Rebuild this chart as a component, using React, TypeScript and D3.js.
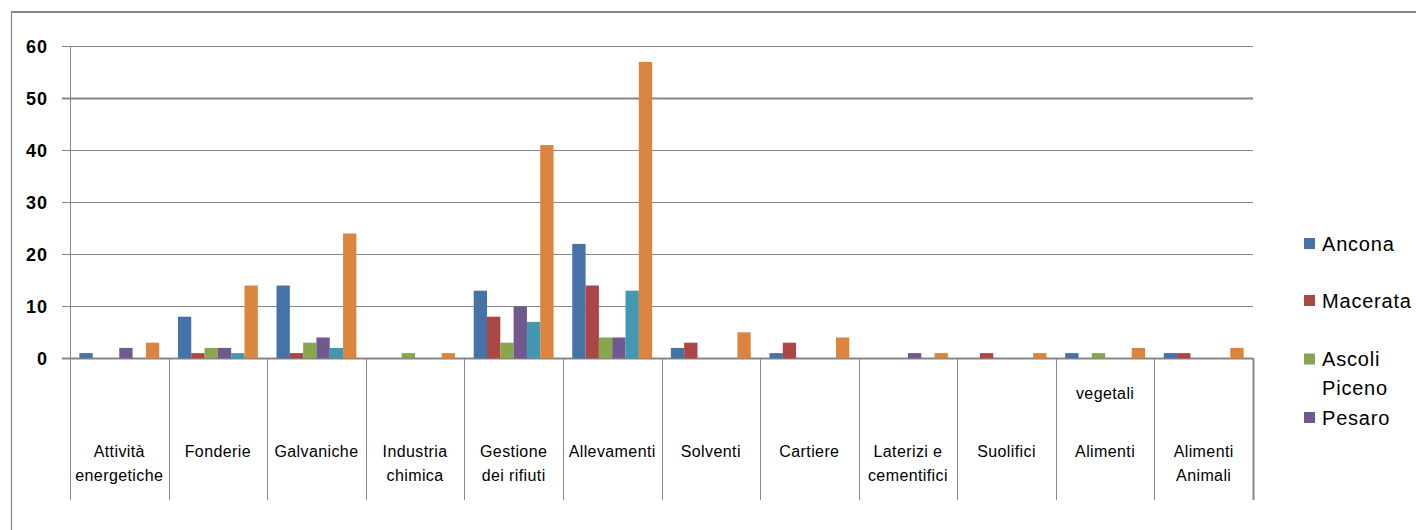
import { useRef, useEffect } from "react";
import * as d3 from "d3";

const CATEGORIES = [
  "Attività energetiche", "Fonderie", "Galvaniche", "Industria chimica", "Gestione dei rifiuti",
  "Allevamenti", "Solventi", "Cartiere", "Laterizi e cementifici", "Suolifici", "Alimenti vegetali", "Alimenti Animali",
];
const CATEGORY_LINES = [
  ["Attività", "energetiche"], ["Fonderie"], ["Galvaniche"], ["Industria", "chimica"], ["Gestione", "dei rifiuti"],
  ["Allevamenti"], ["Solventi"], ["Cartiere"], ["Laterizi e", "cementifici"], ["Suolifici"], ["Alimenti"], ["Alimenti", "Animali"],
];
const SERIES = ["Ancona", "Macerata", "Ascoli Piceno", "Pesaro", "Fermo", "Totale"];
const ANCONA = [1, 8, 14, 0, 13, 22, 2, 1, 0, 0, 1, 1];
const MACERATA = [0, 1, 1, 0, 8, 14, 3, 3, 0, 1, 0, 1];
const ASCOLI = [0, 2, 3, 1, 3, 4, 0, 0, 0, 0, 1, 0];
const PESARO = [2, 2, 4, 0, 10, 4, 0, 0, 1, 0, 0, 0];
const FERMO = [0, 1, 2, 0, 7, 13, 0, 0, 0, 0, 0, 0];
const TOTALE = [3, 14, 24, 1, 41, 57, 5, 4, 1, 1, 2, 2];
const Y_TICKS = [0, 10, 20, 30, 40, 50, 60];

const COLORS = ["#4572a7", "#aa4643", "#89a54e", "#71588f", "#4198af", "#db843d"];
const LEGEND_LINES = [["Ancona"], ["Macerata"], ["Ascoli", "Piceno"], ["Pesaro"]];

export default function App() {
  const ref = useRef<SVGSVGElement>(null);

  useEffect(() => {
    if (!ref.current) return;
    const W = 1416, H = 530;
    const x0 = 70, x1 = 1253, yTop = 46.3, yZero = 358.3, axisBottom = 500;
    const grey = "#868686";
    const font = "'Liberation Sans', Arial, sans-serif";

    const svg = d3.select(ref.current);
    svg.selectAll("*").remove();
    svg.attr("width", W).attr("height", H);

    const values = [ANCONA, MACERATA, ASCOLI, PESARO, FERMO, TOTALE];

    const x = d3.scaleBand<string>().domain(CATEGORIES).range([x0, x1]).padding(0);
    const bw = x.bandwidth();
    const gap = bw * 0.19;
    const xs = d3.scaleBand<string>().domain(SERIES).range([gap / 2, bw - gap / 2]).padding(0);
    const y = d3.scaleLinear().domain([0, 60]).range([yZero, yTop]);

    // Outer frame
    svg.append("line").attr("x1", 11.5).attr("x2", W).attr("y1", 12).attr("y2", 12).attr("stroke", grey).attr("stroke-width", 2);
    svg.append("line").attr("x1", 11.5).attr("x2", 11.5).attr("y1", 11).attr("y2", H).attr("stroke", grey).attr("stroke-width", 1.2);

    // Gridlines + ticks
    Y_TICKS.forEach((t) => {
      svg.append("line")
        .attr("x1", x0 - 8).attr("x2", x1)
        .attr("y1", Math.round(y(t)) + 0.5).attr("y2", Math.round(y(t)) + 0.5)
        .attr("stroke", grey).attr("stroke-width", t === 0 || t === 50 ? 2 : 1);
      svg.append("text")
        .attr("x", 48).attr("y", y(t)).attr("dy", "0.36em")
        .attr("text-anchor", "end").attr("font-family", font).attr("font-weight", "bold")
        .attr("font-size", 18).attr("letter-spacing", 1).attr("fill", "#000").text(t);
    });

    // Y axis line
    svg.append("line").attr("x1", x0 + 0.5).attr("x2", x0 + 0.5).attr("y1", yTop).attr("y2", axisBottom).attr("stroke", grey).attr("stroke-width", 1);

    // Category dividers
    CATEGORIES.forEach((c, i) => {
      const xe = (x(c) ?? 0) + bw;
      svg.append("line").attr("x1", Math.round(xe) + 0.5).attr("x2", Math.round(xe) + 0.5)
        .attr("y1", yZero).attr("y2", axisBottom).attr("stroke", grey).attr("stroke-width", i === CATEGORIES.length - 1 ? 2 : 1);
    });

    // Bars
    SERIES.forEach((s, si) => {
      svg.append("g").selectAll("rect").data(values[si]).join("rect")
        .attr("x", (_, i) => (x(CATEGORIES[i]) ?? 0) + (xs(s) ?? 0))
        .attr("width", xs.bandwidth())
        .attr("y", (d) => y(d))
        .attr("height", (d) => yZero - y(d))
        .attr("fill", COLORS[si]);
    });

    // Category labels
    CATEGORY_LINES.forEach((lines, i) => {
      const cx = (x(CATEGORIES[i]) ?? 0) + bw / 2;
      lines.forEach((ln, li) => {
        svg.append("text").attr("x", cx).attr("y", 457 + li * 24)
          .attr("text-anchor", "middle").attr("font-family", font).attr("font-size", 16)
          .attr("letter-spacing", 0.4).attr("fill", "#000").text(ln);
      });
    });
    svg.append("text").attr("x", (x(CATEGORIES[10]) ?? 0) + bw / 2).attr("y", 399)
      .attr("text-anchor", "middle").attr("font-family", font).attr("font-size", 16)
      .attr("letter-spacing", 0.4).attr("fill", "#000").text("vegetali");

    // Legend (only first four entries fit)
    const legendY = [243.5, 300.5, 359, 417.5];
    LEGEND_LINES.forEach((lines, i) => {
      svg.append("rect").attr("x", 1304).attr("y", legendY[i] - 5.5).attr("width", 11).attr("height", 11).attr("fill", COLORS[i]);
      lines.forEach((ln, li) => {
        svg.append("text").attr("x", 1322).attr("y", legendY[i] + 7 + li * 29)
          .attr("font-family", font).attr("font-size", 20).attr("letter-spacing", 0.8)
          .attr("fill", "#000").text(ln);
      });
    });
  }, []);

  return <svg ref={ref} style={{ position: "absolute", left: 0, top: 0, display: "block" }} />;
}
